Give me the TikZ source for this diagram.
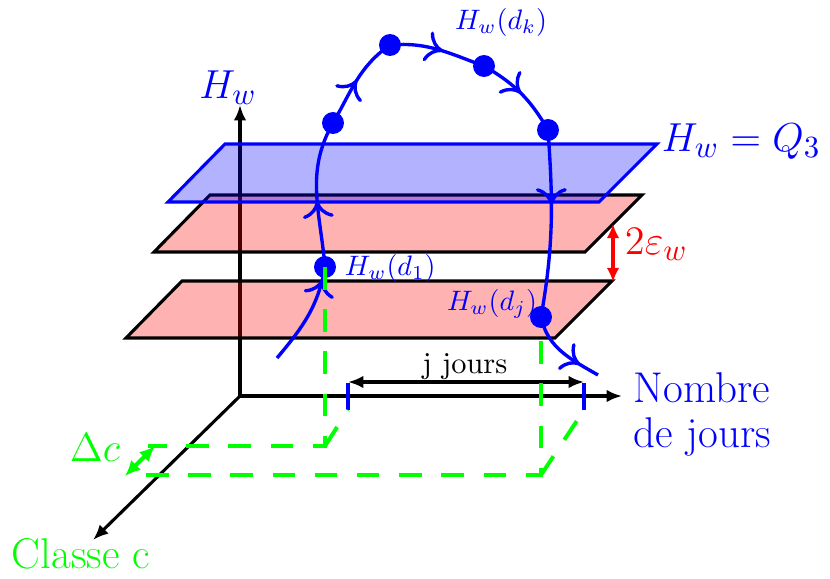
\documentclass[tikz,border=0pt]{standalone}
\usetikzlibrary{arrows.meta,decorations.markings}
\begin{document}
\begin{tikzpicture}[x=0.0125cm,y=0.0125cm,
  axis/.style={line width=1.1pt,-{Latex[length=5.5pt,width=4.5pt]}},
  dimline/.style={line width=1.1pt,{Latex[length=5.5pt,width=4.5pt]}-{Latex[length=5.5pt,width=4.5pt]}},
  sheet/.style={line width=1.1pt,fill=red,fill opacity=0.3},
  qsheet/.style={line width=1.1pt,draw=blue,fill=blue,fill opacity=0.3},
  seg/.style={blue,line width=1.2pt,decoration={markings,
    mark=at position #1 with {\arrow{To[length=6pt,width=11pt]}}},postaction={decorate}},
  seg/.default=0.5,
  dot/.style={circle,fill=blue,inner sep=0pt,minimum size=7.8pt},
  gdash/.style={green,line width=1.4pt,dash pattern=on 8pt off 7pt},
  big/.style={font=\fontsize{15.3}{16}\selectfont},
  lab/.style={blue,font=\normalsize}
]
\useasboundingbox (0,0) rectangle (830,578);

% axes
\coordinate (O) at (240,182);
\draw[axis] (O) -- (240,473) coordinate (ytip);
\draw[axis] (O) -- (622,182) coordinate (xtip);
\draw[axis] (O) -- (93,38) coordinate (ztip);

% planes
\draw[sheet] (182,297) -- (612,297) coordinate (lowr) -- (555,240) -- (126,240) -- cycle;
\draw[sheet] (210,383) -- (642,383) -- (585,326) -- (154,326) -- cycle;
\draw[qsheet] (225,434) -- (657,434) coordinate (qr) -- (599,376) -- (168,376) -- cycle;

% 2 epsilon
\coordinate (e1) at (613,354);
\draw[red,line width=1.4pt,{Latex[length=5pt,width=4.5pt]}-{Latex[length=5pt,width=4.5pt]}] (e1) -- (613,296);
\node[red,big,anchor=west] (eps) at (615,334) {$2\varepsilon_w$};

% j jours
\coordinate (t1) at (348,168);
\coordinate (t2) at (584,168);
\draw[blue,line width=1.1pt] (t1) -- ++(0,27);
\draw[blue,line width=1.1pt] (t2) -- ++(0,27);
\draw[dimline] (348,196) -- (584,196);
\node[font=\fontsize{10.8}{12}\selectfont] (jj) at (465,211) {j jours};

% trajectory
\coordinate (c0) at (277,220);
\node[dot] (d1) at (325,311) {};
\node[dot] (p2) at (333,455) {};
\node[dot] (p3) at (390,533) {};
\node[dot] (dk) at (484,512) {};
\node[dot] (p5) at (548,448) {};
\node[dot] (dj) at (541,261) {};
\coordinate (c1) at (598,203);
\foreach \a/\b/\o/\i/\p in {c0/d1.center/50/260/0.88, d1.center/p2.center/95/240/0.45,
    p2.center/p3.center/60/215/0.5, p3.center/dk.center/5/160/0.55,
    dk.center/p5.center/-30/120/0.5, p5.center/dj.center/-86/80/0.4,
    dj.center/c1/-78/150/0.75}
  \draw[seg=\p] (\a) to[out=\o,in=\i] (\b);

% class c
\coordinate (f1) at (325,132);
\coordinate (f2) at (541,103);
\draw[gdash] (d1.center) -- (f1) -- (148,132);
\draw[gdash] (f1) -- (t1);
\draw[gdash] (146,103) -- (f2) -- (dj.south);
\draw[gdash] (f2) -- (t2);
\draw[green,line width=1.4pt,{Latex[length=5.5pt,width=5pt]}-{Latex[length=5.5pt,width=5pt]}] (125,102) -- (155,132);

% labels
\node[blue,big] (hw) at (228,490) {$H_w$};
\node[blue,big,anchor=west] (hq) at (652,436) {$H_w=Q_3$};
\node[blue,big,anchor=west,align=left] (nj) at (624,164) {Nombre\\de jours};
\node[green,big] (cc) at (81,24) {Classe c};
\node[green,big] (dc) at (95,130) {$\Delta c$};
\node[lab,anchor=west] (l1) at (335,310) {$H_w(d_1)$};
\node[lab] (lj) at (492,274) {$H_w(d_j)$};
\node[lab] (lk) at (501,556) {$H_w(d_k)$};
\end{tikzpicture}
\end{document}
